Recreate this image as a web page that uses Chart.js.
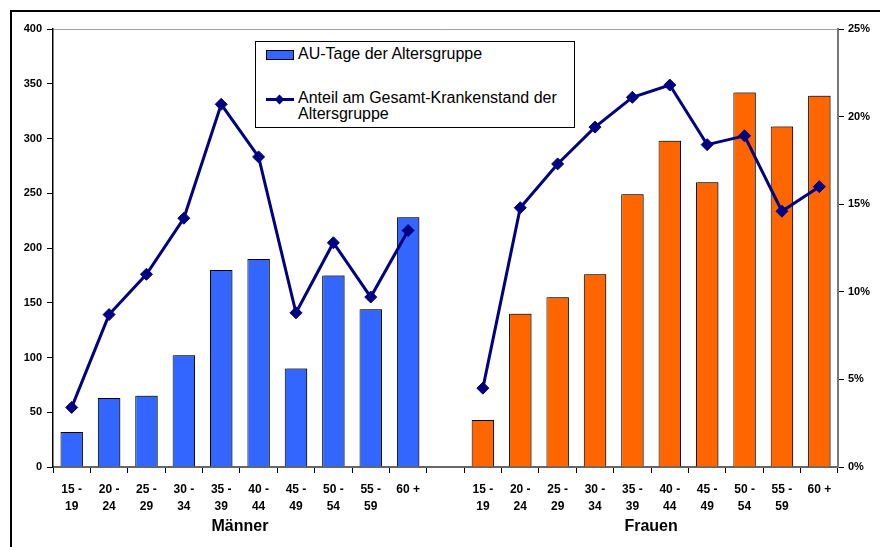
<!DOCTYPE html>
<html>
<head>
<meta charset="utf-8">
<script src="https://cdn.jsdelivr.net/npm/chart.js@4"></script>
<style>
  body { margin: 0; background: #fff; font-family: Arial, 'Liberation Sans', sans-serif; }
  #wrap { position: relative; width: 880px; height: 547px; overflow: hidden; }
  #frame { position: absolute; left: 10px; top: 10px; width: 900px; height: 600px;
           border-left: 2px solid #000; border-top: 2px solid #000; pointer-events: none; }
  #legend { position: absolute; left: 255px; top: 41px; width: 318px; height: 85px;
            border: 1px solid #000; background: #fff; font-size: 16px; color: #000; }
  .item { position: absolute; left: 10px; }
  .swatch { position: absolute; left: 0; width: 26px; height: 8px; background: #3366FF; border: 1px solid #000; }
  .lineSym { position: absolute; left: 0; width: 28px; height: 3px; background: #000080; }
  .dia { position: absolute; left: 10px; width: 7px; height: 7px; background: #000080; transform: rotate(45deg); }
  .txt { position: absolute; left: 32px; white-space: nowrap; line-height: 16px; }
</style>
</head>
<body>
<div id="wrap">
  <canvas id="chart" width="880" height="547"></canvas>
  <div id="frame"></div>
  <div id="legend">
    <div class="item" style="top:7px">
      <div class="swatch" style="top:1px"></div>
      <div class="txt" style="top:-3px">AU-Tage der Altersgruppe</div>
    </div>
    <div class="item" style="top:56px">
      <div class="lineSym" style="top:0px"></div>
      <div class="dia" style="top:-2px"></div>
      <div class="txt" style="top:-8px">Anteil am Gesamt-Krankenstand der<br>Altersgruppe</div>
    </div>
  </div>
</div>
<script>
const ageGroups = [['15 -', '19'], ['20 -', '24'], ['25 -', '29'], ['30 -', '34'], ['35 -', '39'],
                   ['40 -', '44'], ['45 -', '49'], ['50 -', '54'], ['55 -', '59'], '60 +'];
const groupNames = ['Männer', 'Frauen'];

// AU-Tage der Altersgruppe
const menDays = [32, 63, 65, 102, 180, 190, 90, 175, 144, 228];
const womenDays = [43, 140, 155, 176, 249, 298, 260, 342, 311, 339];

// Anteil am Gesamt-Krankenstand (%)
const menShare = [3.4, 8.7, 11.0, 14.2, 20.7, 17.7, 8.8, 12.8, 9.7, 13.5];
const womenShare = [4.5, 14.8, 17.3, 19.4, 21.1, 21.8, 18.4, 18.9, 14.6, 16.0];

const leftTicks = { min: 0, max: 400, step: 50 };
const rightTicks = { min: 0, max: 25, step: 5 };

const labels = [...ageGroups, '', ...ageGroups];
const days = [...menDays, null, ...womenDays];
const share = [...menShare, null, ...womenShare];
const barColors = [...menDays.map(() => '#3366FF'), '#fff', ...womenDays.map(() => '#FF6600')];

Chart.defaults.font.family = "Arial, 'Liberation Sans', sans-serif";
Chart.defaults.color = '#000';

const barShadow = {
  id: 'barShadow',
  beforeDatasetDraw(chart, args) {
    if (args.index !== 1) return;
    const c = chart.ctx;
    c.save();
    c.shadowColor = 'rgba(0,0,0,0.35)';
    c.shadowOffsetX = 2;
    c.shadowOffsetY = -1;
    c.shadowBlur = 0;
  },
  afterDatasetDraw(chart, args) {
    if (args.index !== 1) return;
    chart.ctx.restore();
  }
};

const groupTitles = {
  id: 'groupTitles',
  afterDraw(chart) {
    const x = chart.scales.x;
    const c = chart.ctx;
    c.save();
    c.font = "bold 16px Arial, 'Liberation Sans', sans-serif";
    c.fillStyle = '#000';
    c.textAlign = 'center';
    c.textBaseline = 'middle';
    const n = ageGroups.length;
    const cx1 = (x.getPixelForValue(0) + x.getPixelForValue(n - 1)) / 2;
    const cx2 = (x.getPixelForValue(n + 1) + x.getPixelForValue(2 * n)) / 2;
    c.fillText(groupNames[0], cx1, 527);
    c.fillText(groupNames[1], cx2, 527);
    c.restore();
  }
};

new Chart(document.getElementById('chart').getContext('2d'), {
  data: {
    labels,
    datasets: [
      {
        type: 'line',
        label: 'Anteil am Gesamt-Krankenstand der Altersgruppe',
        data: share,
        yAxisID: 'y1',
        borderColor: '#000080',
        borderWidth: 3,
        pointStyle: 'rectRot',
        pointRadius: 6,
        pointBackgroundColor: '#000080',
        pointBorderColor: '#000080',
        pointBorderWidth: 1,
        tension: 0,
        spanGaps: false,
        order: 0
      },
      {
        type: 'bar',
        label: 'AU-Tage der Altersgruppe',
        data: days,
        yAxisID: 'y',
        backgroundColor: barColors,
        borderColor: '#000',
        borderWidth: 1,
        barPercentage: 0.6,
        categoryPercentage: 1,
        order: 1
      }
    ]
  },
  options: {
    responsive: false,
    animation: false,
    layout: { padding: { top: 29, left: 0, right: 0, bottom: 0 } },
    plugins: { legend: { display: false }, tooltip: { enabled: false } },
    scales: {
      x: {
        offset: true,
        grid: { offset: true, drawOnChartArea: false, tickLength: 6, tickColor: '#000' },
        border: { color: '#666', width: 2 },
        ticks: { font: { size: 12, weight: 'bold', lineHeight: 1.4 }, padding: 8, maxRotation: 0, autoSkip: false },
        afterFit(s) { s.height = 80; }
      },
      y: {
        position: 'left',
        min: leftTicks.min, max: leftTicks.max,
        ticks: { stepSize: leftTicks.step, font: { size: 11, weight: 'bold' }, padding: 5 },
        grid: {
          tickLength: 6, tickColor: '#000',
          color: ctx => ctx.tick && ctx.tick.value === leftTicks.max ? '#a0a0a0' : 'rgba(0,0,0,0)'
        },
        border: { color: '#000', width: 1.5 },
        afterFit(s) { s.width = 53; }
      },
      y1: {
        position: 'right',
        min: rightTicks.min, max: rightTicks.max,
        ticks: { stepSize: rightTicks.step, font: { size: 11, weight: 'bold' }, padding: 4, callback: v => v + '%' },
        grid: { drawOnChartArea: false, tickLength: 6, tickColor: '#000' },
        border: { color: '#777', width: 2 },
        afterFit(s) { s.width = 42; }
      }
    }
  },
  plugins: [barShadow, groupTitles]
});
</script>
</body>
</html>
